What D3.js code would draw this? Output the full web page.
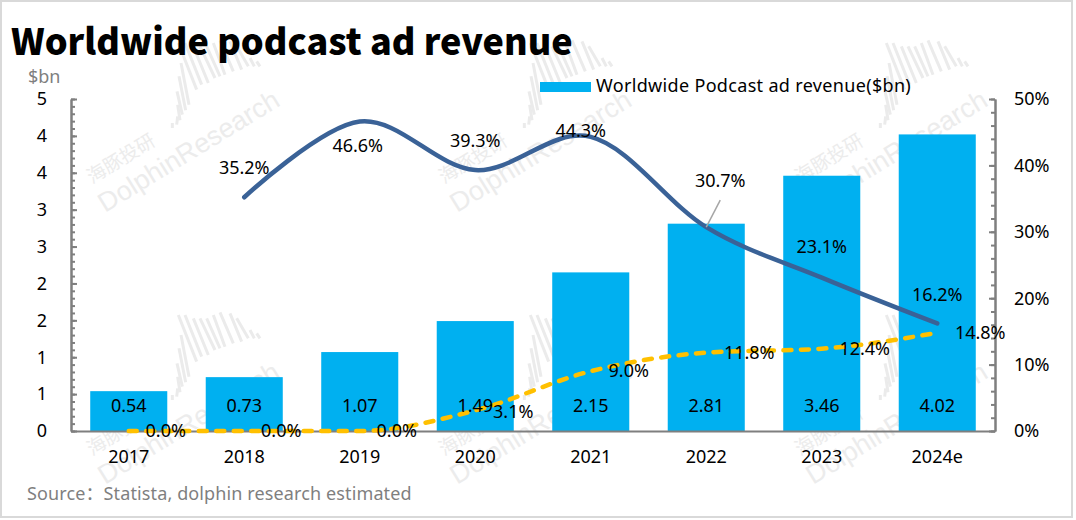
<!DOCTYPE html>
<html>
<head>
<meta charset="utf-8">
<script src="https://cdn.jsdelivr.net/npm/d3@7"></script>
<style>
  html, body { margin: 0; padding: 0; background: #fff; }
  text { font-family: "Noto Sans", "Noto Sans CJK SC", sans-serif; fill: #000; }
</style>
</head>
<body>
<div id="chart"></div>
<script>
const years = ["2017", "2018", "2019", "2020", "2021", "2022", "2023", "2024e"];
const revenue = [0.54, 0.73, 1.07, 1.49, 2.15, 2.81, 3.46, 4.02];
const growth = [null, 35.2, 46.6, 39.3, 44.3, 30.7, 23.1, 16.2];
const share = [0, 0, 0, 3.1, 9.0, 11.8, 12.4, 14.8];
const leftTicks = [0, 0.5, 1, 1.5, 2, 2.5, 3, 3.5, 4, 4.5];
const rightTicks = [0, 10, 20, 30, 40, 50];

// label nudges relative to the point, same order as the series
const growthNudge = [null, [0, -30], [-2, 24], [0, -29], [-10, -6], [14, -46], [0, -31], [0, -29]];
const shareNudge = [[37, 0], [37, 0], [37, 0], [38, 1], [38, -1], [43, 0], [43, 0], [43, 0]];

const watermarks = [[0, 0], [352, 0], [708, 0], [0, 272], [352, 272], [708, 272]];
// strokes of the watermark logo, drawn at 3x and scaled down
const logoStrokes = [
  [22, 285, 22, 270], [35, 275, 38, 250], [45, 262, 38, 215], [52, 245, 36, 175],
  [62, 232, 42, 130], [72, 215, 48, 90], [95, 170, 40, 30], [110, 155, 60, 30],
  [130, 150, 85, 40], [150, 135, 105, 40], [165, 130, 125, 40], [180, 125, 145, 30],
  [205, 115, 165, 22], [230, 110, 195, 25], [250, 100, 215, 40], [268, 100, 255, 75],
  [285, 100, 275, 85]
];

const width = 1076;
const height = 520;
const plot = { left: 71, right: 995, top: 99, bottom: 431 };
const labelSize = 18;

const svg = d3.select("#chart").append("svg")
  .attr("width", width)
  .attr("height", height)
  .style("display", "block");

svg.append("rect")
  .attr("x", 1).attr("y", 1)
  .attr("width", 1071).attr("height", 516)
  .attr("fill", "#fff")
  .attr("stroke", "#d9d9d9")
  .attr("stroke-width", 2);

// watermark, sits behind everything
function drawWatermark(g) {
  g.append("g")
    .attr("transform", "translate(165,33) scale(0.3333)")
    .selectAll("line")
    .data(logoStrokes)
    .join("line")
    .attr("x1", (d) => d[0])
    .attr("y1", (d) => d[1])
    .attr("x2", (d) => d[2])
    .attr("y2", (d) => d[3])
    .attr("stroke", "#ebebeb")
    .attr("stroke-width", 9);
  g.append("text")
    .attr("transform", "translate(105,213) rotate(-31.5)")
    .style("font-family", "'Liberation Sans', sans-serif")
    .style("font-size", "27px")
    .style("fill", "#ececec")
    .text("DolphinResearch");
  g.append("text")
    .attr("transform", "translate(92,184) rotate(-31.5)")
    .style("font-family", "'Noto Sans CJK SC', sans-serif")
    .style("font-size", "19px")
    .style("fill", "#ececec")
    .text("海豚投研");
}

watermarks.forEach((d) => {
  drawWatermark(svg.append("g").attr("transform", `translate(${d[0]},${d[1]})`));
});

const x = d3.scaleBand()
  .domain(years)
  .range([plot.left, plot.right])
  .paddingInner(0.333)
  .paddingOuter(0.1665);
const y = d3.scaleLinear().domain([0, 4.5]).range([plot.bottom, plot.top]);
const yPct = d3.scaleLinear().domain([0, 50]).range([plot.bottom, plot.top]);
const cx = (d) => x(d) + x.bandwidth() / 2;

svg.append("text")
  .attr("x", 11).attr("y", 55)
  .style("font-family", "'Noto Sans CJK SC', sans-serif")
  .style("font-size", "36px")
  .style("font-weight", 900)
  .text("Worldwide podcast ad revenue");

svg.append("text")
  .attr("x", 28).attr("y", 77)
  .attr("dy", "0.35em")
  .style("font-size", `${labelSize}px`)
  .style("fill", "#7f7f7f")
  .text("$bn");

// bars
svg.selectAll("rect.bar")
  .data(revenue)
  .join("rect")
  .attr("class", "bar")
  .attr("x", (d, i) => x(years[i]))
  .attr("y", (d) => y(d))
  .attr("width", x.bandwidth())
  .attr("height", (d) => y(0) - y(d))
  .attr("fill", "#00b0f0");

// axes
function styleAxis(g) {
  g.selectAll("path, line").attr("stroke", "#7f7f7f").attr("stroke-width", 2);
  g.selectAll("text").remove();
}

const leftMinor = d3.range(0, 46).map((d) => d / 10);
const rightMinor = d3.range(0, 52, 2);

svg.append("g")
  .attr("transform", `translate(${plot.left},0)`)
  .call(d3.axisRight(y).tickValues(leftMinor).tickSize(4).tickSizeOuter(0).tickFormat(""))
  .call(styleAxis);
svg.append("g")
  .attr("transform", `translate(${plot.left},0)`)
  .call(d3.axisRight(y).tickValues(leftTicks).tickSize(6).tickSizeOuter(0).tickFormat(""))
  .call(styleAxis);
svg.append("g")
  .attr("transform", `translate(${plot.right},0)`)
  .call(d3.axisLeft(yPct).tickValues(rightMinor).tickSize(4).tickSizeOuter(0).tickFormat(""))
  .call(styleAxis);
svg.append("g")
  .attr("transform", `translate(${plot.right},0)`)
  .call(d3.axisLeft(yPct).tickValues(rightTicks).tickSize(6).tickSizeOuter(0).tickFormat(""))
  .call(styleAxis);
svg.append("g")
  .attr("transform", `translate(0,${plot.bottom})`)
  .call(d3.axisBottom(x).tickSize(0).tickSizeOuter(0))
  .call(styleAxis);

const yFormat = d3.format(".0f");
svg.selectAll("text.left-tick")
  .data(leftTicks)
  .join("text")
  .attr("class", "left-tick")
  .attr("x", 47)
  .attr("y", (d) => y(d))
  .attr("dy", "0.35em")
  .attr("text-anchor", "end")
  .style("font-size", `${labelSize}px`)
  .text((d) => yFormat(d));

svg.selectAll("text.right-tick")
  .data(rightTicks)
  .join("text")
  .attr("class", "right-tick")
  .attr("x", 1014)
  .attr("y", (d) => yPct(d))
  .attr("dy", "0.35em")
  .style("font-size", `${labelSize}px`)
  .text((d) => `${d}%`);

svg.selectAll("text.year")
  .data(years)
  .join("text")
  .attr("class", "year")
  .attr("x", (d) => cx(d))
  .attr("y", 457)
  .attr("dy", "0.35em")
  .attr("text-anchor", "middle")
  .style("font-size", `${labelSize}px`)
  .text((d) => d);

// lines
function points(values) {
  return values.map((v, i) => ({ year: years[i], v: v }));
}

const growthLine = d3.line()
  .defined((d) => d.v !== null)
  .x((d) => cx(d.year))
  .y((d) => yPct(d.v))
  .curve(d3.curveCardinal.tension(0));

const shareLine = d3.line()
  .x((d) => cx(d.year))
  .y((d) => yPct(d.v))
  .curve(d3.curveMonotoneX);

svg.append("path")
  .datum(points(growth))
  .attr("d", growthLine)
  .attr("fill", "none")
  .attr("stroke", "#3a6297")
  .attr("stroke-width", 4.5)
  .attr("stroke-linecap", "round");

svg.append("path")
  .datum(points(share))
  .attr("d", shareLine)
  .attr("fill", "none")
  .attr("stroke", "#ffc000")
  .attr("stroke-width", 4.5)
  .attr("stroke-dasharray", "8 9.5")
  .attr("stroke-linecap", "round");

// leader for the 30.7% label
svg.append("line")
  .attr("x1", cx("2022") + 14)
  .attr("y1", yPct(30.7) - 27)
  .attr("x2", cx("2022"))
  .attr("y2", yPct(30.7))
  .attr("stroke", "#a6a6a6")
  .attr("stroke-width", 1.5);

// data labels
svg.selectAll("text.bar-label")
  .data(revenue)
  .join("text")
  .attr("class", "bar-label")
  .attr("x", (d, i) => cx(years[i]))
  .attr("y", 406)
  .attr("dy", "0.35em")
  .attr("text-anchor", "middle")
  .style("font-size", `${labelSize}px`)
  .text((d) => d.toFixed(2));

function pctLabels(cls, values, nudge) {
  const rows = values
    .map((v, i) => ({ v: v, year: years[i], nudge: nudge[i] }))
    .filter((d) => d.v !== null);
  svg.selectAll(`text.${cls}`)
    .data(rows)
    .join("text")
    .attr("class", cls)
    .attr("x", (d) => cx(d.year) + d.nudge[0])
    .attr("y", (d) => yPct(d.v) + d.nudge[1])
    .attr("dy", "0.35em")
    .attr("text-anchor", "middle")
    .style("font-size", `${labelSize}px`)
    .text((d) => `${d.v.toFixed(1)}%`);
}
pctLabels("growth-label", growth, growthNudge);
pctLabels("share-label", share, shareNudge);

// legend
svg.append("rect")
  .attr("x", 540).attr("y", 82)
  .attr("width", 51).attr("height", 10)
  .attr("fill", "#00b0f0");
svg.append("text")
  .attr("x", 596).attr("y", 86)
  .attr("dy", "0.35em")
  .style("font-size", `${labelSize}px`)
  .style("letter-spacing", "0.33px")
  .text("Worldwide Podcast ad revenue($bn)");

svg.append("text")
  .attr("x", 27).attr("y", 494)
  .attr("dy", "0.35em")
  .style("font-size", `${labelSize}px`)
  .style("letter-spacing", "0.12px")
  .style("fill", "#7f7f7f")
  .text("Source：Statista, dolphin research estimated");
</script>
</body>
</html>
